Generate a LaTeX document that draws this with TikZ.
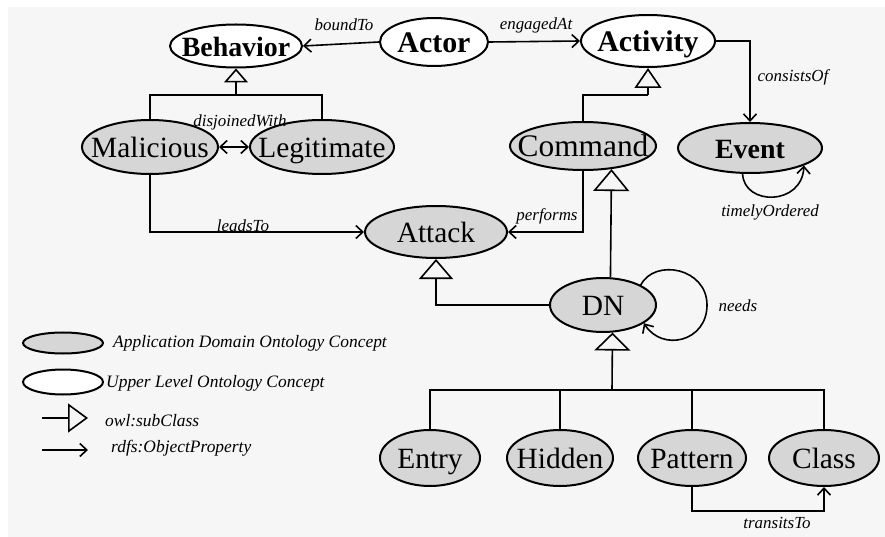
\documentclass[tikz,border=0pt]{standalone}
\usepackage{fontspec}
\setmainfont{Liberation Serif}
\usetikzlibrary{shapes.geometric,arrows.meta}
\definecolor{paper}{RGB}{246,246,246}
\definecolor{stipple}{RGB}{214,214,214}
\newcommand\cname[1]{\makebox[0pt]{#1}}
\begin{document}
\begin{tikzpicture}[x=1bp,y=-1bp,
  concept/.style={ellipse,draw,line width=2bp,inner sep=0pt,text height=21bp,text depth=0bp},
  upper/.style={concept,fill=white,font=\bfseries\fontsize{30}{30}\selectfont},
  appconcept/.style={concept,fill=stipple,font=\fontsize{29.5}{29.5}\selectfont},
  lbl/.style={inner sep=0pt,font=\itshape\fontsize{17}{17}\selectfont},
  legtext/.style={inner sep=0pt,anchor=west,font=\itshape\fontsize{17.5}{17.5}\selectfont},
  link/.style={line width=1.6bp},
  prop/.style={link,-{Straight Barb[length=7bp,width=13bp]}},
  both/.style={link,{Straight Barb[length=7bp,width=13bp]}-{Straight Barb[length=7bp,width=13bp]}},
  isa/.style 2 args={link,-{Triangle[open,length=#1bp,width=#2bp]}}]

% page
\fill[white] (0,0) rectangle (885,537);
\fill[paper] (8,7) rectangle (885,537);

% upper level concepts
\node[upper,minimum width=132bp,minimum height=43bp,font=\bfseries\fontsize{28}{28}\selectfont] (Behavior) at (236,46) {\cname{Behavior}};
\node[upper,minimum width=108bp,minimum height=48bp] (Actor) at (434,42) {\cname{Actor}};
\node[upper,minimum width=134bp,minimum height=52bp] (Activity) at (648,41) {\cname{Activity}};

% application domain concepts
\node[appconcept,minimum width=136bp,minimum height=54bp] (Malicious) at (150,147) {\cname{Malicious}};
\node[appconcept,minimum width=144bp,minimum height=54bp] (Legitimate) at (322,147) {\cname{Legitimate}};
\node[appconcept,minimum width=146bp,minimum height=48bp,font=\fontsize{31.5}{31.5}\selectfont] (Command) at (583,146) {\cname{Command}};
\node[appconcept,minimum width=144bp,minimum height=50bp,font=\bfseries\fontsize{28}{28}\selectfont] (Event) at (750,148) {\cname{Event}};
\node[appconcept,minimum width=142bp,minimum height=52bp] (Attack) at (436,232) {\cname{Attack}};
\node[appconcept,minimum width=106bp,minimum height=54bp] (DN) at (603,305) {\cname{DN}};
\node[appconcept,minimum width=100bp,minimum height=56bp] (Entry) at (430,458) {\cname{Entry}};
\node[appconcept,minimum width=106bp,minimum height=56bp] (Hidden) at (560,458) {\cname{Hidden}};
\node[appconcept,minimum width=108bp,minimum height=56bp] (Pattern) at (692,458) {\cname{Pattern}};
\node[appconcept,minimum width=110bp,minimum height=56bp] (Class) at (824,458) {\cname{Class}};

% junction points of the subclass trees
\coordinate (jB) at (236,95);
\coordinate (jA) at (648,95);
\coordinate (jD) at (612,390);

% object properties
\draw[prop] (Actor.west) -- (Behavior.east);
\node[lbl] (boundTo) at (344,25) {boundTo};
\draw[prop] (Actor.east) -- (Activity.west);
\node[lbl] (engagedAt) at (536,25) {engagedAt};
\draw[prop] (Activity.east) -| (Event.north);
\node[lbl] (consistsOf) at (793,77) {consistsOf};
\draw[prop] (Event.-106) .. controls (744,206) and (802,206) .. (Event.-18);
\node[lbl] (timely) at (770,212) {timelyOrdered};
\draw[both] (Malicious.east) -- (Legitimate.west);
\node[lbl] (disjoined) at (240,122) {disjoinedWith};
\draw[prop] (Malicious.south) |- (Attack.west);
\node[lbl] (leadsTo) at (243,226) {leadsTo};
\draw[prop] (Command.south) |- (Attack.east);
\node[lbl] (performs) at (547,216) {performs};
\draw[prop] (DN.28) .. controls (655,258) and (707,268) .. (707,305)
  .. controls (707,342) and (662,352) .. (DN.-24);
\node[lbl] (needs) at (738,306) {needs};
\draw[prop] (Pattern.south) -- ++(0,24) -| (Class.south);
\node[lbl] (transitsTo) at (777,523) {transitsTo};

% subclass relations
\draw[link] (Malicious.north) |- (jB) -| (Legitimate.north);
\draw[isa={14}{24}] (jB) -- (Behavior);
\draw[link] (Command.north) |- (jA);
\draw[isa={20}{27}] (jA) -- (Activity);
\draw[isa={22}{36}] (DN.75.3) -- (Command.-39.6);
\draw[isa={20}{34}] (DN.west) -| (Attack.south);
\draw[isa={18}{36}] (jD) -- (DN.-71.3);
\draw[link] (Entry.north) -- (Entry.north |- jD) -- (Class.north |- jD) -- (Class.north);
\draw[link] (Hidden.north) -- (Hidden.north |- jD);
\draw[link] (Pattern.north) -- (Pattern.north |- jD);

% legend
\node[concept,fill=stipple,minimum width=80bp,minimum height=21bp,text height=0bp] (keyDomain) at (63,343) {};
\node[legtext] (keyDomainText) at (113,343) {Application Domain Ontology Concept};
\node[concept,fill=white,minimum width=80bp,minimum height=25bp,text height=0bp] (keyUpper) at (63,382) {};
\node[legtext] (keyUpperText) at (106,383) {Upper Level Ontology Concept};
\coordinate (keyIsaA) at (42,418);
\coordinate (keyIsaB) at (88,418);
\draw[isa={20}{29}] (keyIsaA) -- (keyIsaB);
\node[legtext] (keyIsaText) at (105,421) {owl:subClass};
\coordinate (keyPropA) at (42,450);
\coordinate (keyPropB) at (88,450);
\draw[prop] (keyPropA) -- (keyPropB);
\node[legtext] (keyPropText) at (111,448) {rdfs:ObjectProperty};
\end{tikzpicture}
\end{document}
